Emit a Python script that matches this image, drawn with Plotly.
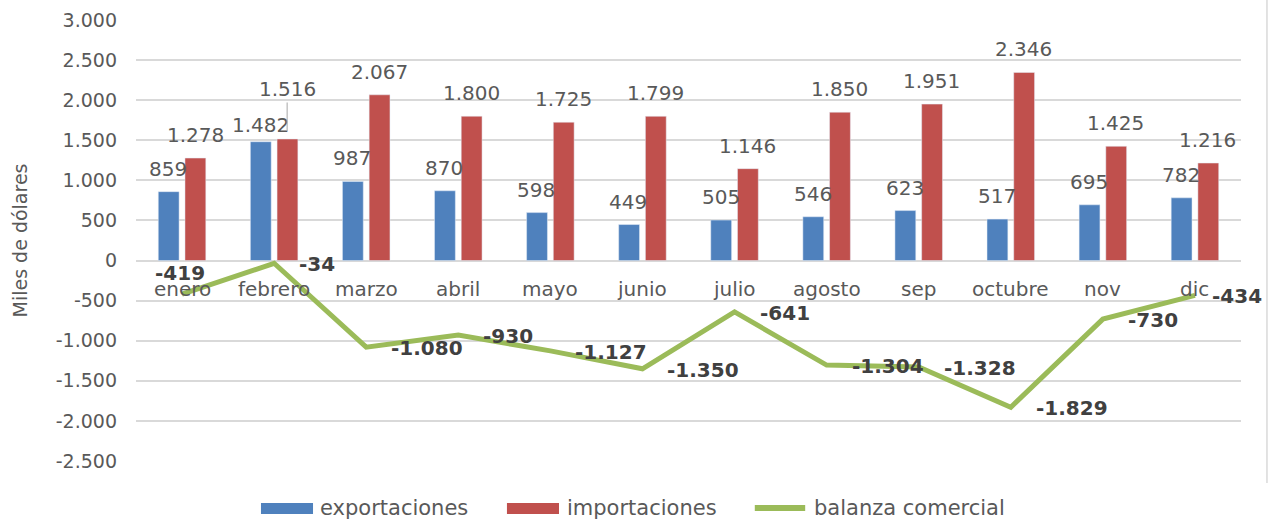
import plotly.graph_objects as go

meses = ["enero", "febrero", "marzo", "abril", "mayo", "junio", "julio",
         "agosto", "sep", "octubre", "nov", "dic"]
exportaciones = [859, 1482, 987, 870, 598, 449, 505, 546, 623, 517, 695, 782]
importaciones = [1278, 1516, 2067, 1800, 1725, 1799, 1146, 1850, 1951, 2346, 1425, 1216]
balanza = [-419, -34, -1080, -930, -1127, -1350, -641, -1304, -1328, -1829, -730, -434]
y_ticks = [3000, 2500, 2000, 1500, 1000, 500, 0, -500, -1000, -1500, -2000, -2500]
series_names = ["exportaciones", "importaciones", "balanza comercial"]

FONT = "DejaVu Sans"
GRAY = "#595959"
DARK = "#404040"
BLUE = "#4F81BD"
RED = "#C0504D"
GREEN = "#9BBB59"


def fmt(v):
    s = f"{abs(v):,}".replace(",", ".")
    return ("-" if v < 0 else "") + s


fig = go.Figure()
fig.add_trace(go.Bar(x=meses, y=exportaciones, name=series_names[0],
                     marker_color=BLUE, showlegend=False))
fig.add_trace(go.Bar(x=meses, y=importaciones, name=series_names[1],
                     marker_color=RED, showlegend=False))
fig.add_trace(go.Scatter(x=meses, y=balanza, name=series_names[2], mode="lines",
                         line=dict(color=GREEN, width=5), showlegend=False))

lab_font = dict(family=FONT, size=20, color=GRAY)
bold_font = dict(family=FONT, size=20, color=DARK)
leg_font = dict(family=FONT, size=21, color=GRAY)

ann = []
last = len(meses) - 1
for i, m in enumerate(meses):
    ys_exp = 3 if m == "febrero" else 9
    ann.append(dict(x=m, y=exportaciones[i], text=fmt(exportaciones[i]), xshift=-14,
                    yanchor="bottom", yshift=ys_exp, showarrow=False, font=lab_font))
    if m == "febrero":
        ann.append(dict(x=m, y=importaciones[i], text=fmt(importaciones[i]), xshift=13,
                        showarrow=True, arrowhead=0, arrowwidth=1, arrowcolor="#A6A6A6",
                        ax=0, ay=-50, standoff=8, font=lab_font))
    else:
        ann.append(dict(x=m, y=importaciones[i], text=fmt(importaciones[i]), xshift=13,
                        yanchor="bottom", yshift=9, showarrow=False, font=lab_font))
    ann.append(dict(x=m, y=0, text=m, yanchor="middle", yshift=-28, showarrow=False,
                    font=lab_font))
    if i == 0:
        ann.append(dict(x=m, y=balanza[i], text="<b>" + fmt(balanza[i]) + "</b>",
                        xanchor="center", xshift=-2, yanchor="middle", yshift=21,
                        showarrow=False, font=bold_font))
    else:
        ann.append(dict(x=m, y=balanza[i], text="<b>" + fmt(balanza[i]) + "</b>",
                        xanchor="left", xshift=15 if i == last else 23,
                        yanchor="middle", yshift=-1,
                        showarrow=False, font=bold_font))

# manual legend (paper coordinates relative to plot area)
LEG_Y = -0.1066
leg_text_x = [0.1647, 0.3882, 0.6118]
for name, lx in zip(series_names, leg_text_x):
    ann.append(dict(xref="paper", yref="paper", x=lx, y=LEG_Y, text=name,
                    xanchor="left", yanchor="middle", showarrow=False, font=leg_font))

shapes = [
    dict(type="rect", xref="paper", yref="paper", x0=0.1131, x1=0.1602,
         y0=-0.1202, y1=-0.0952, fillcolor=BLUE, line=dict(width=0)),
    dict(type="rect", xref="paper", yref="paper", x0=0.3357, x1=0.3828,
         y0=-0.1202, y1=-0.0952, fillcolor=RED, line=dict(width=0)),
    dict(type="line", xref="paper", yref="paper", x0=0.5600, x1=0.6056,
         y0=LEG_Y, y1=LEG_Y, line=dict(color=GREEN, width=6)),
    dict(type="line", xref="paper", yref="paper", x0=1.0235, x1=1.0235,
         y0=-0.05, y1=1.05, line=dict(color="#D9D9D9", width=1.5)),
]

fig.update_layout(
    width=1271, height=521,
    margin=dict(l=136, r=30, t=20, b=60, autoexpand=False),
    paper_bgcolor="white", plot_bgcolor="white",
    barmode="group", bargap=0.42, bargroupgap=0.22,
    font=dict(family=FONT, size=19, color=GRAY),
    showlegend=False,
    hovermode=False,
    annotations=ann,
    shapes=shapes,
    xaxis=dict(showticklabels=False, showgrid=False, zeroline=False, ticks="",
               range=[-0.5, len(meses) - 0.5]),
    yaxis=dict(range=[-2500, 3000], tickvals=y_ticks, ticktext=[fmt(v) for v in y_ticks],
               showgrid=True, gridcolor="#D9D9D9", gridwidth=1.5, zeroline=True,
               zerolinecolor="#D9D9D9", zerolinewidth=1.5, ticks="",
               ticklabelstandoff=18,
               title=dict(text="Miles de dólares", standoff=23,
                          font=dict(family=FONT, size=19, color=GRAY)),
               tickfont=dict(family=FONT, size=19, color=GRAY)),
)

fig.write_html("out.html", config={"displayModeBar": False},
               post_script="document.body.style.margin='0';document.body.style.padding='0';")
